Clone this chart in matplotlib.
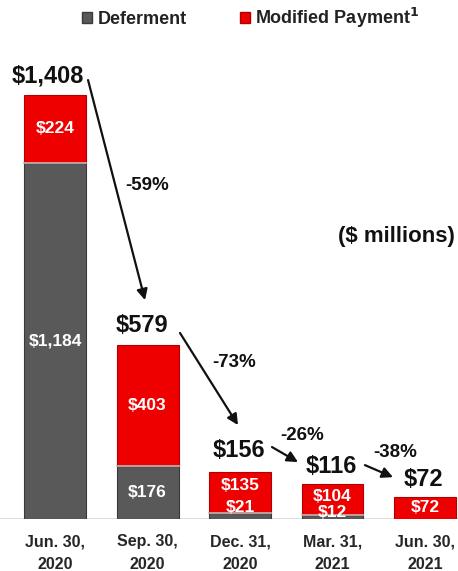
import numpy as np
import matplotlib
matplotlib.use('Agg')
import matplotlib.pyplot as plt
from matplotlib.patches import Patch

plt.rcParams['font.family'] = ['Liberation Sans', 'DejaVu Sans']

# data
quarters = ['Jun. 30,\n2020', 'Sep. 30,\n2020', 'Dec. 31,\n2020', 'Mar. 31,\n2021', 'Jun. 30,\n2021']
deferment = [1184, 176, 21, 12, 0]
modified = [224, 403, 135, 104, 72]
totals = [1408, 579, 156, 116, 72]
changes = ['-59%', '-73%', '-26%', '-38%']

gray = '#595959'
red = '#ee0000'

fig = plt.figure(figsize=(4.58, 5.71), dpi=100)
ax = fig.add_axes([0, 52 / 571, 1, 1 - 52 / 571])
x = np.arange(len(quarters))
w = 0.67

ax.bar(x, deferment, width=w, color=gray, edgecolor='#3a3a3a', linewidth=0.8, zorder=2)
ax.bar(x, modified, width=w, bottom=deferment, color=red, edgecolor='#b00000', linewidth=0.8, zorder=2)
# light separator between segments
for i in range(len(x)):
    if deferment[i] > 0:
        ax.plot([x[i] - w / 2, x[i] + w / 2], [deferment[i], deferment[i]], color='#bbbbbb', lw=1.2, zorder=3)

ax.set_xlim(-0.595, 4.357)
ax.set_ylim(0, 1724)
ax.axhline(0, color='#d9d9d9', lw=1.2, zorder=1)
for s in ax.spines.values():
    s.set_visible(False)
ax.set_yticks([])
ax.set_xticks(x)
ax.set_xticklabels(quarters, fontsize=11.5, fontweight='bold', color='#262626', linespacing=1.65)
ax.tick_params(axis='x', length=0, pad=11)

# segment labels
lab = dict(color='white', fontsize=12.5, fontweight='bold', ha='center', va='center', zorder=4)
small_y = [None, None, (110, 37), (76, 20), (37, None)]
for i in range(len(x)):
    d, m = deferment[i], modified[i]
    if small_y[i] is None:
        ax.text(x[i], d / 2, f'${d:,}', **lab)
        ax.text(x[i], d + m / 2, f'${m:,}', **lab)
    else:
        ym, yd = small_y[i]
        ax.text(x[i], ym, f'${m:,}', **lab)
        if d > 0:
            ax.text(x[i], yd, f'${d:,}', **lab)

# totals
tot_xy = [(-0.076, 1472), (0.94, 644), (1.984, 229), (2.989, 173), (3.984, 130)]
for (tx, ty), t in zip(tot_xy, totals):
    ax.text(tx, ty, f'${t:,}', fontsize=17, fontweight='bold', ha='center', va='center', color='#111111')

# arrows between totals
starts = [(0.357, 1458), (1.351, 618), (2.346, 239), (3.351, 179)]
ends = [(0.973, 727), (1.978, 312), (2.627, 189), (3.654, 139)]
for (x0, y0), (x1, y1) in zip(starts, ends):
    ax.annotate('', xy=(x1, y1), xytext=(x0, y0),
                arrowprops=dict(arrowstyle='-|>', color='#111111', lw=1.6, mutation_scale=16,
                                shrinkA=0, shrinkB=0))

pct_pos = [(1.0, 1109), (1.941, 521), (2.676, 279), (3.681, 222)]
for (px, py), t in zip(pct_pos, changes):
    ax.text(px, py, t, fontsize=13.5, fontweight='bold', ha='center', va='center', color='#111111')

ax.text(4.324, 937, '($ millions)', fontsize=16, fontweight='bold', ha='right', va='center', color='#111111')

handles = [Patch(facecolor=gray, edgecolor='#3a3a3a', label='Deferment'),
           Patch(facecolor=red, edgecolor='#b00000', label='Modified Payment$^\\mathbf{1}$')]
fig.legend(handles=handles, loc='upper center', bbox_to_anchor=(0.547, 1.018), ncol=2, frameon=False,
           prop={'weight': 'bold', 'size': 13}, handlelength=0.55, handleheight=0.55,
           handletextpad=0.3, columnspacing=2.95, labelcolor='#222222')

fig.savefig('out.png', dpi=100)
